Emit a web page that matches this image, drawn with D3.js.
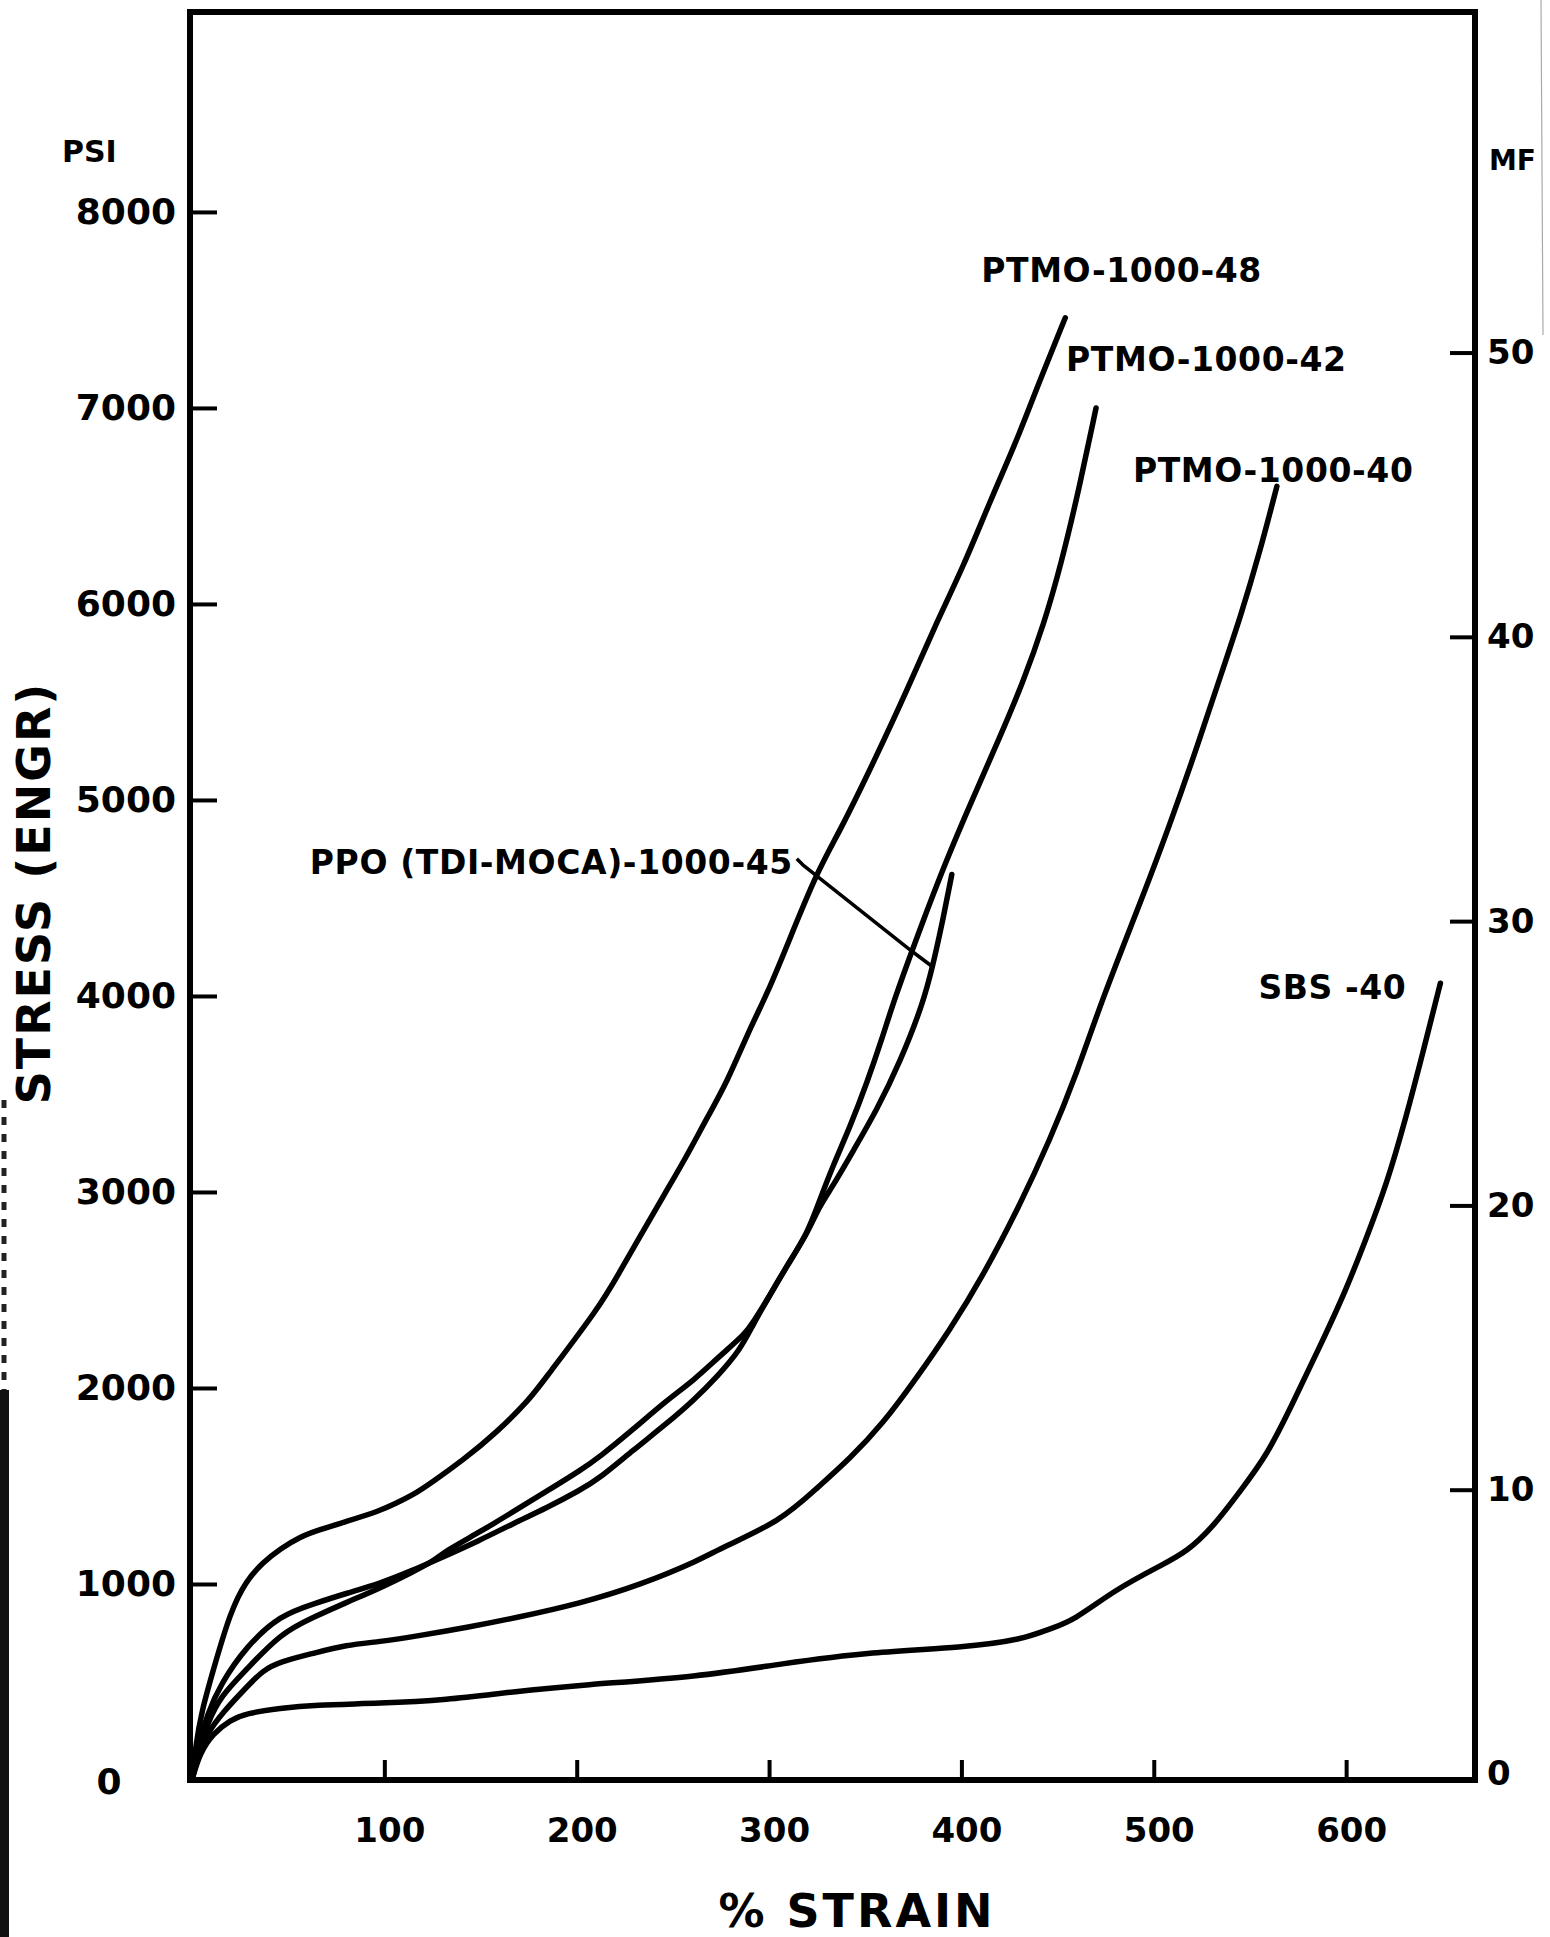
<!DOCTYPE html>
<html>
<head>
<meta charset="utf-8">
<script src="https://cdn.jsdelivr.net/npm/d3@7"></script>
<style>
  html, body { margin: 0; padding: 0; background: #fff; }
  svg { display: block; }
  text { font-family: "DejaVu Sans", sans-serif; font-weight: bold; fill: #000; }
</style>
</head>
<body>
<svg id="chart" width="1550" height="1937"></svg>
<script>
// Engineering stress (psi) versus % strain, one array of [strain, stress] pairs per elastomer
const ptmo48 = [[0,0],[2,180],[5,350],[11,560],[20,860],[28,1015],[37,1112],[46,1180],[56,1240],[66,1276],[80,1318],[98,1374],[106,1412],[115,1454],[125,1520],[141,1633],[158,1769],[176,1947],[183,2041],[212,2415],[222,2587],[234,2791],[246,2995],[257,3179],[268,3383],[278,3556],[290,3834],[299,4010],[309,4248],[325,4636],[337,4843],[355,5206],[371,5543],[387,5905],[401,6190],[415,6527],[429,6838],[440,7122],[454,7460]];

const ptmo42 = [[0,0],[3,130],[8,290],[15,430],[28,560],[46,748],[63,830],[80,905],[98,980],[115,1063],[125,1114],[132,1170],[150,1267],[167,1369],[184,1471],[202,1580],[212,1649],[229,1786],[247,1939],[261,2040],[274,2160],[288,2279],[292,2340],[299,2449],[309,2619],[320,2789],[326,2950],[333,3129],[342,3330],[351,3560],[359,3790],[365,3980],[378,4330],[392,4690],[406,5010],[420,5320],[432,5600],[443,5900],[452,6210],[461,6580],[470,7000]];

const ptmo40 = [[0,0],[3,120],[8,240],[16,345],[28,470],[37,561],[46,604],[63,646],[80,689],[98,706],[115,731],[145,782],[167,825],[202,901],[233,995],[264,1122],[275,1184],[306,1320],[325,1490],[342,1640],[359,1815],[377,2055],[394,2296],[411,2568],[430,2925],[446,3265],[460,3605],[473,3980],[494,4500],[508,4865],[522,5255],[536,5671],[545,5932],[555,6260],[564,6600]];

const ppo45 = [[0,0],[3,160],[8,340],[15,490],[28,680],[46,842],[63,898],[80,952],[98,1003],[115,1071],[125,1114],[150,1224],[167,1309],[184,1386],[202,1480],[212,1540],[229,1680],[247,1820],[261,1939],[273,2058],[285,2194],[292,2330],[299,2449],[309,2619],[320,2789],[326,2925],[333,3027],[344,3214],[356,3418],[368,3660],[380,3960],[385,4149],[390,4370],[395,4620]];

const sbs40 = [[0,0],[4,136],[11,238],[20,306],[28,340],[46,366],[63,383],[98,391],[132,408],[167,451],[202,485],[264,527],[306,593],[354,655],[401,675],[432,717],[446,772],[458,811],[480,972],[505,1101],[517,1163],[531,1293],[545,1475],[559,1658],[572,1918],[586,2204],[600,2500],[611,2777],[621,3037],[631,3375],[640,3714],[649,4065]];

const seriesNames = ["PTMO-1000-48", "PTMO-1000-42", "PTMO-1000-40", "PPO (TDI-MOCA)-1000-45", "SBS-40"];
const seriesLabels = ["PTMO-1000-48", "PTMO-1000-42", "PTMO-1000-40", "PPO (TDI-MOCA)-1000-45", "SBS -40"];

const strainTicks = [100, 200, 300, 400, 500, 600];
const psiTicks = [0, 1000, 2000, 3000, 4000, 5000, 6000, 7000, 8000];
const mpaTicks = [0, 10, 20, 30, 40, 50];
const PSI_PER_MPA = 145.04;

// label placement relative to the last point of each curve
const labelLayout = {
  "PTMO-1000-48": { dx: -84, dy: -48, anchor: "start" },
  "PTMO-1000-42": { dx: -30, dy: -49, anchor: "start" },
  "PTMO-1000-40": { dx: -144, dy: -16, anchor: "start" },
  "PPO (TDI-MOCA)-1000-45": { dx: -159, dy: -12, anchor: "end" },
  "SBS-40": { dx: -34, dy: 4, anchor: "end" }
};

const svg = d3.select("#chart");

const x = d3.scaleLinear().domain([0, 667]).range([192, 1475]);
const y = d3.scaleLinear().domain([0, 9020]).range([1780, 12]);
const pxPerPsi = (1780 - 12) / 9020;
const yMPa = d3.scaleLinear().domain([0, 62]).range([1774, 1774 - 62 * PSI_PER_MPA * pxPerPsi]);

// scanner edge strip on the left and page edge on the right
svg.append("rect").attr("x", 0).attr("y", 1390).attr("width", 9).attr("height", 547).attr("fill", "#111");
svg.append("line").attr("x1", 4).attr("x2", 4).attr("y1", 1100).attr("y2", 1390)
  .attr("stroke", "#222").attr("stroke-width", 5).attr("stroke-dasharray", "8 9");
svg.append("line").attr("x1", 1541).attr("x2", 1543).attr("y1", 0).attr("y2", 335)
  .attr("stroke", "#aaa").attr("stroke-width", 1.2);

// plot frame
svg.append("rect")
  .attr("x", x(0) - 2).attr("y", y(9020))
  .attr("width", x(667) - x(0) + 2).attr("height", y(0) - y(9020))
  .attr("fill", "none").attr("stroke", "#000").attr("stroke-width", 6);

// left axis (psi)
const leftAxis = svg.append("g")
  .attr("transform", `translate(${x(0)},0)`)
  .call(d3.axisLeft(y).tickValues(psiTicks).tickFormat(d3.format("d"))
    .tickSizeInner(-25).tickSizeOuter(0).tickPadding(16));
leftAxis.select(".domain").remove();
leftAxis.selectAll(".tick line").attr("stroke", "#000").attr("stroke-width", 4)
  .filter(d => d === 0).remove();
leftAxis.selectAll(".tick text").attr("font-size", 36).attr("font-family", "DejaVu Sans").attr("font-weight", "bold");
leftAxis.selectAll(".tick").filter(d => d === 0).select("text")
  .attr("x", 0).attr("text-anchor", "middle").attr("transform", "translate(-83,2)");

// right axis (MPa)
const rightAxis = svg.append("g")
  .attr("transform", `translate(${x(667)},0)`)
  .call(d3.axisRight(yMPa).tickValues(mpaTicks).tickFormat(d3.format("d"))
    .tickSizeInner(-25).tickSizeOuter(0).tickPadding(12));
rightAxis.select(".domain").remove();
rightAxis.selectAll(".tick line").attr("stroke", "#000").attr("stroke-width", 4)
  .filter(d => d === 0).remove();
rightAxis.selectAll(".tick text").attr("font-size", 34).attr("font-family", "DejaVu Sans").attr("font-weight", "bold");

// bottom axis (% strain)
const bottomAxis = svg.append("g")
  .attr("transform", `translate(0,${y(0)})`)
  .call(d3.axisBottom(x).tickValues(strainTicks).tickFormat(d3.format("d"))
    .tickSizeInner(-20).tickSizeOuter(0).tickPadding(38));
bottomAxis.select(".domain").remove();
bottomAxis.selectAll(".tick line").attr("stroke", "#000").attr("stroke-width", 4);
bottomAxis.selectAll(".tick text").attr("font-size", 34).attr("font-family", "DejaVu Sans").attr("font-weight", "bold")
  .attr("dx", 5);

// axis titles and units
svg.append("text")
  .attr("transform", "translate(50,893) rotate(-90)")
  .attr("text-anchor", "middle").attr("font-size", 46).attr("letter-spacing", 2)
  .text("STRESS (ENGR)");
svg.append("text")
  .attr("x", 857).attr("y", 1927)
  .attr("text-anchor", "middle").attr("font-size", 46).attr("letter-spacing", 3)
  .text("% STRAIN");
svg.append("text")
  .attr("x", 62).attr("y", 162).attr("font-size", 30)
  .text("PSI");
svg.append("text")
  .attr("x", 1489).attr("y", 170).attr("font-size", 28)
  .text("MF");

// curves
const line = d3.line()
  .x(d => x(d[0]))
  .y(d => y(d[1]))
  .curve(d3.curveBasis);

const series = [ptmo48, ptmo42, ptmo40, ppo45, sbs40];
const curves = svg.append("g");
series.forEach((pts, i) => {
  curves.append("path")
    .datum(pts)
    .attr("d", line)
    .attr("fill", "none")
    .attr("stroke", "#000")
    .attr("stroke-width", 5.5)
    .attr("stroke-linecap", "round")
    .attr("stroke-linejoin", "round")
    .attr("class", "curve")
    .attr("data-name", seriesNames[i]);
});

// curve labels
const labels = svg.append("g");
let ppoLabelNode = null;
series.forEach((pts, i) => {
  const last = pts[pts.length - 1];
  const lay = labelLayout[seriesNames[i]];
  const t = labels.append("text")
    .attr("x", x(last[0]) + lay.dx)
    .attr("y", y(last[1]) + lay.dy)
    .attr("dy", "0.36em")
    .attr("text-anchor", lay.anchor)
    .attr("font-size", 33)
    .attr("letter-spacing", 0.6)
    .text(seriesLabels[i]);
  if (seriesNames[i] === "PPO (TDI-MOCA)-1000-45") ppoLabelNode = t.node();
});

// leader from the PPO label to its curve
const bb = ppoLabelNode.getBBox();
const target = ppo45.find(d => d[0] === 385);
const ex = x(target[0]), ey = y(target[1]);
const sx = bb.x + bb.width + 4, sy = bb.y + bb.height * 0.55;
svg.append("path")
  .attr("d", `M${sx},${sy - 6} L${sx + 6},${sy} L${ex - 20},${ey - 15} L${ex},${ey}`)
  .attr("fill", "none").attr("stroke", "#000").attr("stroke-width", 3.5)
  .attr("stroke-linejoin", "round");
</script>
</body>
</html>
